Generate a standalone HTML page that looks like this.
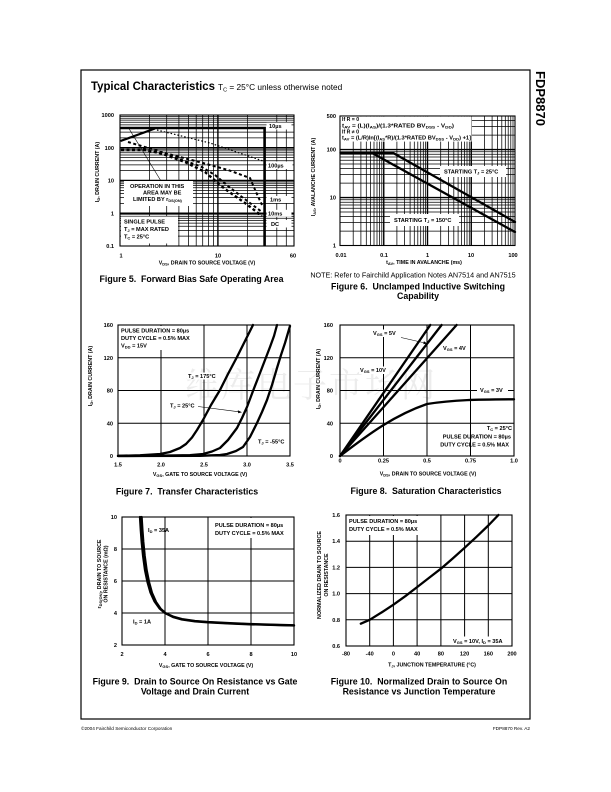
<!DOCTYPE html>
<html><head><meta charset="utf-8">
<style>
html,body{margin:0;padding:0;background:#fff;}
svg{display:block}
text{font-family:"Liberation Sans",Arial,sans-serif;fill:#000}
.tk{font-size:5.6px;font-weight:bold}
.an{font-size:5.6px;font-weight:bold}
.sm{font-size:5.2px;font-weight:bold}
.ax{font-size:5.3px;font-weight:bold}
.cap{font-size:8.8px;font-weight:bold}
.g{stroke:#000;stroke-width:0.75;fill:none}
.G{stroke:#000;stroke-width:1.4;fill:none}
.gl{stroke:#000;stroke-width:1;fill:none}
.bx{fill:none;stroke:#000;stroke-width:1.1}
.c{stroke:#000;stroke-width:2.3;fill:none;stroke-linejoin:round;stroke-linecap:round}
.w{fill:#fff}
</style></head><body>
<svg xmlns="http://www.w3.org/2000/svg" width="611" height="792" viewBox="0 0 611 792">
<rect width="611" height="792" fill="#fff"/>

<!-- watermark -->
<text x="185" y="397" textLength="250" style="font-family:'Noto Serif CJK SC','Noto Sans CJK SC',serif;font-size:34px;fill:#ececec">维库电子市场网</text>

<!-- frame -->
<rect x="81" y="70" width="449" height="649" fill="none" stroke="#000" stroke-width="1.2"/>

<!-- title -->
<text x="91" y="90" textLength="124" lengthAdjust="spacingAndGlyphs" style="font-size:12px;font-weight:bold">Typical Characteristics</text>
<text x="218" y="90" style="font-size:8.3px">T<tspan dy="1.5" font-size="5.5">C</tspan><tspan dy="-1.5"> = 25°C unless otherwise noted</tspan></text>

<!-- side label -->
<text transform="translate(536,71) rotate(90)" style="font-size:13px;font-weight:bold">FDP8870</text>

<!-- ================= FIGURE 5 ================= -->
<path class="g" d="M149.5,115V246M166.7,115V246M178.9,115V246M188.4,115V246M196.2,115V246M202.7,115V246M208.4,115V246M213.4,115V246M247.4,115V246M276.8,115V246M286.3,115V246
M120,116.5H294M120,118.2H294M120,120.1H294M120,122.3H294M120,124.9H294M120,132.1H294M120,137.9H294
M120,149.3H294M120,150.9H294M120,152.8H294M120,155H294M120,157.6H294M120,160.8H294M120,164.9H294M120,170.6H294
M120,182H294M120,183.7H294M120,185.6H294M120,187.8H294M120,190.4H294M120,193.5H294M120,197.6H294M120,203.4H294
M120,214.8H294M120,216.4H294M120,218.3H294M120,220.5H294M120,223.1H294M120,226.3H294M120,230.4H294M120,236.1H294"/>
<path class="G" d="M217.9,115V246M120,147.75H294M120,180.5H294M120,213.25H294"/>
<rect class="bx" x="120" y="115" width="174" height="131"/>
<path d="M120,128H264.6V246" fill="none" stroke="#000" stroke-width="2.6"/>
<path d="M120.5,141L155,128.5" stroke="#000" stroke-width="2.2" fill="none"/>
<path d="M128,127L161,181" stroke="#000" stroke-width="0.6" fill="none"/>
<path d="M157,130L210,143L263,161" fill="none" stroke="#000" stroke-width="1.2" stroke-dasharray="1.5,2"/>
<path d="M128,142L172,155L203,163L228,170L250,178L256,192L262,205" fill="none" stroke="#000" stroke-width="2" stroke-dasharray="3,2.5"/>
<path d="M143,149L170,156L200,166L215,175L228,186L242,197L262,212" fill="none" stroke="#000" stroke-width="2" stroke-dasharray="3,2.5"/>
<path d="M121,150L144,150L160,153L185,162L205,172L225,189L245,203L262,216" fill="none" stroke="#000" stroke-width="2.4" stroke-dasharray="3,2.5"/>
<rect class="w" x="266.5" y="122.5" width="25" height="7"/><text class="an" x="269" y="128.2">10µs</text>
<rect class="w" x="266.5" y="161.5" width="26" height="7.5"/><text class="an" x="268" y="167.6">100µs</text>
<rect class="w" x="266.5" y="196" width="25" height="7"/><text class="an" x="270" y="201.6">1ms</text>
<rect class="w" x="266.5" y="209.8" width="25" height="7"/><text class="an" x="268" y="215.5">10ms</text>
<rect class="w" x="266.5" y="220" width="25" height="7.5"/><text class="an" x="271" y="225.8">DC</text>
<rect class="w" x="124" y="181" width="69" height="25"/>
<text class="an" x="130" y="188">OPERATION IN THIS</text>
<text class="an" x="143" y="194.5">AREA MAY BE</text>
<text class="an" x="133" y="201">LIMITED BY r<tspan dy="1" font-size="3.8">DS(ON)</tspan></text>
<rect class="w" x="121" y="216.5" width="57" height="27"/>
<text class="an" x="124" y="223.5">SINGLE PULSE</text>
<text class="an" x="124" y="231">T<tspan dy="1" font-size="4">J</tspan><tspan dy="-1"> = MAX RATED</tspan></text>
<text class="an" x="124" y="238.5">T<tspan dy="1" font-size="4">C</tspan><tspan dy="-1"> = 25°C</tspan></text>
<g class="tk" text-anchor="end">
<text x="114" y="117">1000</text><text x="114" y="149.8">100</text><text x="114" y="182.5">10</text><text x="114" y="215.3">1</text><text x="114" y="248">0.1</text>
</g>
<g class="tk" text-anchor="middle">
<text x="121" y="257.5">1</text><text x="218" y="257.5">10</text><text x="293" y="257.5">60</text>
</g>
<text class="ax" text-anchor="middle" x="207" y="264.5">V<tspan dy="1.2" font-size="4">DS</tspan><tspan dy="-1.2">, DRAIN TO SOURCE VOLTAGE (V)</tspan></text>
<text class="ax" text-anchor="middle" transform="translate(99,172) rotate(-90)">I<tspan dy="1.2" font-size="4">D</tspan><tspan dy="-1.2">, DRAIN CURRENT (A)</tspan></text>
<text class="cap" text-anchor="middle" x="191.5" y="282">Figure 5.&#160; Forward Bias Safe Operating Area</text>

<!-- ================= FIGURE 6 ================= -->
<path class="g" d="M353.2,116V245.5M360.9,116V245.5M366.3,116V245.5M370.6,116V245.5M374,116V245.5M377,116V245.5M379.5,116V245.5M381.8,116V245.5
M396.9,116V245.5M404.6,116V245.5M410.1,116V245.5M414.3,116V245.5M417.8,116V245.5M420.7,116V245.5M423.3,116V245.5M425.5,116V245.5
M440.7,116V245.5M448.4,116V245.5M453.8,116V245.5M458.1,116V245.5M461.5,116V245.5M464.5,116V245.5M467,116V245.5M469.3,116V245.5
M484.4,116V245.5M492.1,116V245.5M497.6,116V245.5M501.8,116V245.5M505.3,116V245.5M508.2,116V245.5M510.8,116V245.5M513,116V245.5
M340,120.65H515M340,126.65H515M340,135.1H515
M340,151.75H515M340,154.2H515M340,157H515M340,160.2H515M340,164H515M340,168.65H515M340,174.65H515M340,183.1H515
M340,199.75H515M340,202.2H515M340,205H515M340,208.2H515M340,212H515M340,216.65H515M340,222.65H515M340,231.1H515"/>
<path class="G" d="M383.75,116V245.5M427.5,116V245.5M471.25,116V245.5M340,149.55H515M340,197.55H515"/>
<rect class="bx" x="340" y="116" width="175" height="129.5"/>
<rect class="w" x="340.6" y="116.6" width="131" height="25"/>
<text class="sm" x="342" y="121.2">If R = 0</text>
<text class="sm" x="342" y="127.3" textLength="112" lengthAdjust="spacingAndGlyphs">t<tspan dy="1" font-size="3.8">AV</tspan><tspan dy="-1"> = (L)(I</tspan><tspan dy="1" font-size="3.8">AS</tspan><tspan dy="-1">)/(1.3*RATED BV</tspan><tspan dy="1" font-size="3.8">DSS</tspan><tspan dy="-1"> - V</tspan><tspan dy="1" font-size="3.8">DD</tspan><tspan dy="-1">)</tspan></text>
<text class="sm" x="342" y="133.3">If R ≠ 0</text>
<text class="sm" x="342" y="139.5" textLength="129" lengthAdjust="spacingAndGlyphs">t<tspan dy="1" font-size="3.8">AV</tspan><tspan dy="-1"> = (L/R)ln[(I</tspan><tspan dy="1" font-size="3.8">AS</tspan><tspan dy="-1">*R)/(1.3*RATED BV</tspan><tspan dy="1" font-size="3.8">DSS</tspan><tspan dy="-1"> - V</tspan><tspan dy="1" font-size="3.8">DD</tspan><tspan dy="-1">) +1]</tspan></text>
<path class="c" d="M340.5,152.9H393L515,222"/>
<path class="c" d="M340.5,152.9H372L515,232"/>
<rect class="w" x="440" y="166" width="66" height="11"/>
<text class="an" x="444" y="173.7">STARTING T<tspan dy="1" font-size="4">J</tspan><tspan dy="-1"> = 25°C</tspan></text>
<rect class="w" x="390" y="214" width="69" height="12"/>
<text class="an" x="394" y="222.2">STARTING T<tspan dy="1" font-size="4">J</tspan><tspan dy="-1"> = 150°C</tspan></text>
<g class="tk" text-anchor="end">
<text x="336" y="118">500</text><text x="336" y="151.5">100</text><text x="336" y="199.5">10</text><text x="336" y="247.5">1</text>
</g>
<g class="tk" text-anchor="middle">
<text x="341" y="257">0.01</text><text x="384" y="257">0.1</text><text x="427.5" y="257">1</text><text x="471" y="257">10</text><text x="513" y="257">100</text>
</g>
<text class="ax" text-anchor="middle" x="424" y="264">t<tspan dy="1.2" font-size="4">AV</tspan><tspan dy="-1.2">, TIME IN AVALANCHE (ms)</tspan></text>
<text class="ax" text-anchor="middle" transform="translate(315,177) rotate(-90)">I<tspan dy="1.2" font-size="4">AS</tspan><tspan dy="-1.2">, AVALANCHE CURRENT (A)</tspan></text>
<text text-anchor="middle" x="413" y="277.5" style="font-size:7.2px">NOTE: Refer to Fairchild Application Notes AN7514 and AN7515</text>
<text class="cap" text-anchor="middle" x="418" y="289.5">Figure 6.&#160; Unclamped Inductive Switching</text>
<text class="cap" text-anchor="middle" x="418" y="299">Capability</text>

<!-- ================= FIGURE 7 ================= -->
<path class="gl" d="M161,325V456M204,325V456M247,325V456M118,357.75H290M118,390.5H290M118,423.25H290"/>
<rect class="bx" x="118" y="325" width="172" height="131"/>
<rect class="w" x="119" y="326" width="80" height="24"/>
<text class="an" x="121" y="332.5">PULSE DURATION = 80µs</text>
<text class="an" x="121" y="340">DUTY CYCLE = 0.5% MAX</text>
<text class="an" x="121" y="347.5">V<tspan dy="1" font-size="4">DD</tspan><tspan dy="-1"> = 15V</tspan></text>
<path class="c" d="M118,455.8L140,455.3L160,454L170,452L180,448L186,444L192,437.5L197,430L203,420L211,405L220,390L228,374L237,357L245,341L253,325"/>
<path class="c" d="M118,456L160,455.7L190,455.2L203,454L212,451.5L220,448L228,440L237,428L242,418L247,407L253,391L260,373L265,360L270,347L274,336L277,325"/>
<path class="c" d="M118,456L200,455.8L220,455L227,454L236,451L243,447L250,437L257,423L262,412L267,400L272,385L277,368L281,355L285,343L290,326"/>
<rect class="w" x="187" y="372.5" width="31" height="7"/>
<text class="an" x="188" y="378">T<tspan dy="1" font-size="4">J</tspan><tspan dy="-1"> = 175°C</tspan></text>
<text class="an" x="170" y="407.5">T<tspan dy="1" font-size="4">J</tspan><tspan dy="-1"> = 25°C</tspan></text>
<path d="M198,406.5L239,411.8" stroke="#000" stroke-width="0.6" fill="none"/>
<polygon points="242,412.2 237.8,410.2 238.2,413.2" fill="#000"/>
<text class="an" x="258" y="443.5">T<tspan dy="1" font-size="4">J</tspan><tspan dy="-1"> = -55°C</tspan></text>
<g class="tk" text-anchor="end">
<text x="113" y="327">160</text><text x="113" y="359.8">120</text><text x="113" y="392.5">80</text><text x="113" y="425.3">40</text><text x="113" y="458">0</text>
</g>
<g class="tk" text-anchor="middle">
<text x="118" y="466.5">1.5</text><text x="161" y="466.5">2.0</text><text x="204" y="466.5">2.5</text><text x="247" y="466.5">3.0</text><text x="290" y="466.5">3.5</text>
</g>
<text class="ax" text-anchor="middle" x="200" y="476">V<tspan dy="1.2" font-size="4">GS</tspan><tspan dy="-1.2">, GATE TO SOURCE VOLTAGE (V)</tspan></text>
<text class="ax" text-anchor="middle" transform="translate(92,376) rotate(-90)">I<tspan dy="1.2" font-size="4">D</tspan><tspan dy="-1.2">, DRAIN CURRENT (A)</tspan></text>
<text class="cap" text-anchor="middle" x="187" y="494.5">Figure 7.&#160; Transfer Characteristics</text>

<!-- ================= FIGURE 8 ================= -->
<path class="gl" d="M383.5,325V456M427,325V456M470.5,325V456M340,357.75H514M340,390.5H514M340,423.25H514"/>
<rect class="bx" x="340" y="325" width="174" height="131"/>
<rect class="w" x="372" y="329.5" width="29" height="7.5"/>
<rect class="w" x="359" y="366.5" width="30" height="7.5"/>
<rect class="w" x="477" y="386" width="31" height="8"/>
<path class="c" d="M340,456L430.3,325"/>
<path class="c" d="M340,456L441.6,325"/>
<path class="c" d="M340,456L456.6,325"/>
<path class="c" d="M340,456C370,433 395,415 427,404C455,399.5 480,399.5 514,399.3"/>
<text class="an" x="373" y="335">V<tspan dy="1" font-size="4">GS</tspan><tspan dy="-1"> = 5V</tspan></text>
<path d="M401,337.5L425,343" stroke="#000" stroke-width="0.6" fill="none"/>
<polygon points="427.5,343.6 423.26,344.16 423.94,341.24" fill="#000"/>
<text class="an" x="443" y="350">V<tspan dy="1" font-size="4">GS</tspan><tspan dy="-1"> = 4V</tspan></text>
<text class="an" x="360" y="372">V<tspan dy="1" font-size="4">GS</tspan><tspan dy="-1"> = 10V</tspan></text>
<text class="an" x="480" y="392">V<tspan dy="1" font-size="4">GS</tspan><tspan dy="-1"> = 3V</tspan></text>
<text class="an" text-anchor="end" x="512" y="430">T<tspan dy="1" font-size="4">C</tspan><tspan dy="-1"> = 25°C</tspan></text>
<text class="an" text-anchor="end" x="511" y="438.5">PULSE DURATION = 80µs</text>
<text class="an" text-anchor="end" x="509" y="446.5">DUTY CYCLE = 0.5% MAX</text>
<g class="tk" text-anchor="end">
<text x="333" y="327">160</text><text x="333" y="359.8">120</text><text x="333" y="392.5">80</text><text x="333" y="425.3">40</text><text x="333" y="458">0</text>
</g>
<g class="tk" text-anchor="middle">
<text x="340" y="462.5">0</text><text x="383.5" y="462.5">0.25</text><text x="427" y="462.5">0.5</text><text x="470.5" y="462.5">0.75</text><text x="514" y="462.5">1.0</text>
</g>
<text class="ax" text-anchor="middle" x="428" y="475.5">V<tspan dy="1.2" font-size="4">DS</tspan><tspan dy="-1.2">, DRAIN TO SOURCE VOLTAGE (V)</tspan></text>
<text class="ax" text-anchor="middle" transform="translate(320,379) rotate(-90)">I<tspan dy="1.2" font-size="4">D</tspan><tspan dy="-1.2">, DRAIN CURRENT (A)</tspan></text>
<text class="cap" text-anchor="middle" x="426" y="494">Figure 8.&#160; Saturation Characteristics</text>

<!-- ================= FIGURE 9 ================= -->
<path class="gl" d="M165,517V645M208,517V645M251,517V645M122,549H294M122,581H294M122,613H294"/>
<rect class="bx" x="122" y="517" width="172" height="128"/>
<rect class="w" x="212" y="518" width="78" height="20"/>
<path class="c" d="M141.6,517L142.4,530L143.3,542L144.7,556L146.6,570L149,582L152,593L156,602L160.8,609L166,613.5L173,617L182,619.5L195,621.3L208,622.3L230,623.5L250,624.3L275,625L294,625.5"/>
<path class="c" d="M140,517L140.8,530L141.7,542L143.1,556L145,570L147.5,582L150.5,592.5L154.6,601.5L159.6,608.5L165,613L173,616.6L182,619.1L195,621L208,622L230,623.2L250,624L275,624.8L294,625.3"/>
<text class="an" x="148" y="532">I<tspan dy="1" font-size="4">D</tspan><tspan dy="-1"> = 35A</tspan></text>
<text class="an" x="133" y="623.5">I<tspan dy="1" font-size="4">D</tspan><tspan dy="-1"> = 1A</tspan></text>
<text class="an" x="215" y="527">PULSE DURATION = 80µs</text>
<text class="an" x="215" y="535">DUTY CYCLE = 0.5% MAX</text>
<g class="tk" text-anchor="end">
<text x="117" y="519">10</text><text x="117" y="551">8</text><text x="117" y="583">6</text><text x="117" y="615">4</text><text x="117" y="647">2</text>
</g>
<g class="tk" text-anchor="middle">
<text x="122" y="656">2</text><text x="165" y="656">4</text><text x="208" y="656">6</text><text x="251" y="656">8</text><text x="294" y="656">10</text>
</g>
<text class="ax" text-anchor="middle" x="206" y="667">V<tspan dy="1.2" font-size="4">GS</tspan><tspan dy="-1.2">, GATE TO SOURCE VOLTAGE (V)</tspan></text>
<text class="ax" text-anchor="middle" transform="translate(101,574) rotate(-90)">r<tspan dy="1.2" font-size="4">DS(ON)</tspan><tspan dy="-1.2">, DRAIN TO SOURCE</tspan></text>
<text class="ax" text-anchor="middle" transform="translate(107.5,574) rotate(-90)">ON RESISTANCE (mΩ)</text>
<text class="cap" text-anchor="middle" x="195" y="684.5">Figure 9.&#160; Drain to Source On Resistance vs Gate</text>
<text class="cap" text-anchor="middle" x="195" y="694.5">Voltage and Drain Current</text>

<!-- ================= FIGURE 10 ================= -->
<path class="gl" d="M369.7,515V646M393.4,515V646M417.1,515V646M440.9,515V646M464.6,515V646M488.3,515V646M346,541.2H512M346,567.4H512M346,593.6H512M346,619.8H512"/>
<rect class="bx" x="346" y="515" width="166" height="131"/>
<rect class="w" x="347" y="516" width="77" height="19"/>
<rect class="w" x="450" y="636.5" width="61" height="9"/>
<path class="c" d="M360.8,623.7L369.7,619.8L381.5,612.5L393.4,604.7L405.3,596.2L417.1,587.1L429,577.9L440.9,568.7L452.7,558.5L464.6,547.8L476.5,536.8L488.3,525.5L498.4,515"/>
<text class="an" x="349" y="523">PULSE DURATION = 80µs</text>
<text class="an" x="349" y="531">DUTY CYCLE = 0.5% MAX</text>
<text class="an" x="453" y="643">V<tspan dy="1" font-size="4">GS</tspan><tspan dy="-1"> = 10V, I</tspan><tspan dy="1" font-size="4">D</tspan><tspan dy="-1"> = 35A</tspan></text>
<g class="tk" text-anchor="end">
<text x="340" y="517">1.6</text><text x="340" y="543.2">1.4</text><text x="340" y="569.4">1.2</text><text x="340" y="595.6">1.0</text><text x="340" y="621.8">0.8</text><text x="340" y="648">0.6</text>
</g>
<g class="tk" text-anchor="middle">
<text x="346" y="655.5">-80</text><text x="369.7" y="655.5">-40</text><text x="393.4" y="655.5">0</text><text x="417.1" y="655.5">40</text><text x="440.9" y="655.5">80</text><text x="464.6" y="655.5">120</text><text x="488.3" y="655.5">160</text><text x="512" y="655.5">200</text>
</g>
<text class="ax" text-anchor="middle" x="432" y="666.5">T<tspan dy="1.2" font-size="4">J</tspan><tspan dy="-1.2">, JUNCTION TEMPERATURE (°C)</tspan></text>
<text class="ax" text-anchor="middle" transform="translate(321,575) rotate(-90)" textLength="88" lengthAdjust="spacingAndGlyphs">NORMALIZED DRAIN TO SOURCE</text>
<text class="ax" text-anchor="middle" transform="translate(328,575) rotate(-90)">ON RESISTANCE</text>
<text class="cap" text-anchor="middle" x="419" y="684.5">Figure 10.&#160; Normalized Drain to Source On</text>
<text class="cap" text-anchor="middle" x="419" y="694.5">Resistance vs Junction Temperature</text>

<!-- footer -->
<text x="81" y="730" style="font-size:4.7px">©2004 Fairchild Semiconductor Corporation</text>
<text x="530" y="730" text-anchor="end" style="font-size:4.7px">FDP8870 Rev. A2</text>
</svg>
</body></html>
